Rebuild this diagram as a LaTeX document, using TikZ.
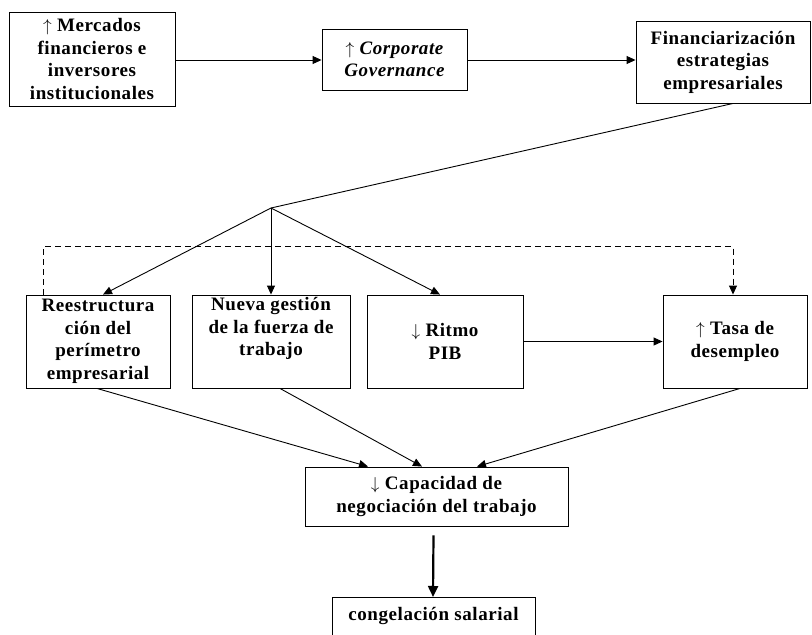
\documentclass[tikz,border=0pt]{standalone}
\usepackage{fontspec}
\setmainfont{Liberation Serif}[LetterSpace=3]
\usetikzlibrary{arrows.meta,calc}
\newcommand{\upar}{\textup{$\uparrow$}}
\newcommand{\dnar}{\textup{$\downarrow$}}
\begin{document}
\begin{tikzpicture}[x=1pt,y=-1pt,
  box/.style={draw,line width=0.9pt,rectangle,align=center,inner sep=2pt,
    font=\fontsize{19}{22.5}\selectfont\bfseries},
  lbl/.style={align=center,inner sep=0pt,font=\fontsize{19}{22.5}\selectfont\bfseries},
  arr/.style={line width=0.9pt,-{Triangle[length=9pt,width=8pt]}},
  dsh/.style={line width=0.9pt,dash pattern=on 6pt off 4pt,-{Triangle[length=9pt,width=8pt]}},
  thick arr/.style={line width=2.2pt,-{Triangle[length=11pt,width=10pt]}}]
\useasboundingbox (0,0) rectangle (812,635);
\clip (0,0) rectangle (812,635);
\node[box,minimum width=166pt,minimum height=94pt] (A) at (92,59)
  {\raisebox{-3pt}{\upar\ Mercados}\\\raisebox{-3pt}{financieros e}\\\raisebox{-3pt}{inversores}\\\raisebox{-3pt}{institucionales}};
\node[box,minimum width=145pt,minimum height=61pt,
  font=\fontsize{19}{22.5}\selectfont\bfseries\itshape] (B) at (394.5,59.5)
  {\upar\ Corporate\\Governance};
\node[box,minimum width=174pt,minimum height=82pt] (C) at (723,62)
  {Financiarización\\estrategias\\empresariales};
\node[box,minimum width=144pt,minimum height=93pt] (R) at (98,341.5)
  {Reestructura\\ción del\\perímetro\\empresarial};
\node[box,minimum width=158pt,minimum height=93pt] (N) at (271,341.5)
  {Nueva gestión\\de la fuerza de\\trabajo\\\strut};
\node[box,minimum width=156pt,minimum height=93pt] (P) at (445,341.5)
  {\raisebox{-4pt}{\dnar\ Ritmo}\\\raisebox{-4pt}{PIB}};
\node[box,minimum width=144pt,minimum height=93pt] (T) at (735,341.5)
  {\raisebox{-4pt}{\upar\ Tasa de}\\\raisebox{-4pt}{desempleo}};
\node[box,minimum width=263pt,minimum height=59pt] (K) at (436.5,496.5)
  {\dnar\ Capacidad de\\negociación del trabajo};
\node[draw,line width=0.9pt,minimum width=203pt,minimum height=70pt,anchor=north] (G) at (433.5,597) {};
\node[lbl] (Gt) at (433.5,616) {congelación salarial};
\coordinate (J) at (271,208);
\draw[arr] (A.east |- 0,60) -- (B.west |- 0,60);
\draw[arr] (B.east |- 0,60) -- (C.west |- 0,60);
\draw[line width=0.9pt] ([xshift=10pt]C.south) -- (J);
\draw[arr] (J) -- ([xshift=5pt]R.north);
\draw[arr] (J) -- (N.north);
\draw[arr] (J) -- ([xshift=-5pt]P.north);
\draw[dsh] ([xshift=-55pt]R.north) -- ++(0,-48) -| ([xshift=-2pt]T.north);
\draw[arr] (P.east) -- (T.west);
\draw[arr] ([xshift=-1pt]R.south) -- ([xshift=-68.5pt]K.north);
\draw[arr] ([xshift=9pt]N.south) -- ([xshift=-14.5pt]K.north);
\draw[arr] ([xshift=5pt]T.south) -- ([xshift=40.5pt]K.north);
\draw[thick arr] ([yshift=-9pt,xshift=-3pt]K.south) -- ([xshift=-0.5pt]G.north);
\end{tikzpicture}
\end{document}
